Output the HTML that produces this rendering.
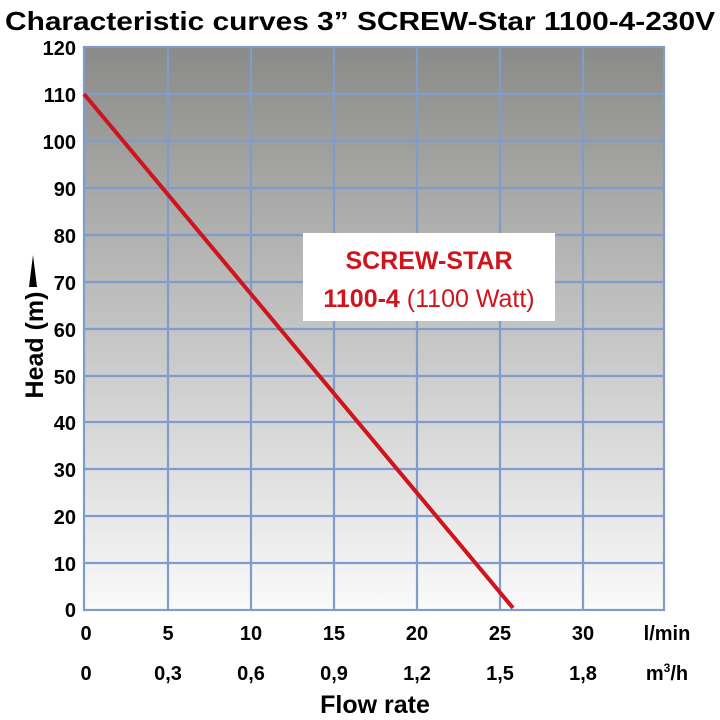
<!DOCTYPE html>
<html><head><style>
body{margin:0;background:#fff;width:720px;height:715px;overflow:hidden}
</style></head><body>
<svg width="720" height="715" xmlns="http://www.w3.org/2000/svg" font-family="Liberation Sans, sans-serif" font-weight="bold">
<defs><linearGradient id="g" x1="0" y1="0" x2="0" y2="1">
<stop offset="0" stop-color="#8a8a88"/><stop offset="0.5" stop-color="#c4c4c4"/><stop offset="1" stop-color="#fafafa"/></linearGradient></defs>
<text x="5" y="30" font-size="26" textLength="710" lengthAdjust="spacingAndGlyphs">Characteristic curves 3” SCREW-Star 1100-4-230V</text>
<rect x="84" y="47" width="580" height="563" fill="url(#g)"/>
<g stroke="#7f9ccc" stroke-width="2.2" fill="none">
<rect x="84" y="47" width="580" height="563"/>
<line x1="84" y1="94" x2="664" y2="94"/><line x1="84" y1="141" x2="664" y2="141"/>
<line x1="84" y1="188" x2="664" y2="188"/><line x1="84" y1="235" x2="664" y2="235"/>
<line x1="84" y1="282" x2="664" y2="282"/><line x1="84" y1="329" x2="664" y2="329"/>
<line x1="84" y1="376" x2="664" y2="376"/><line x1="84" y1="422" x2="664" y2="422"/>
<line x1="84" y1="469" x2="664" y2="469"/><line x1="84" y1="516" x2="664" y2="516"/>
<line x1="84" y1="563" x2="664" y2="563"/>
<line x1="168" y1="47" x2="168" y2="610"/><line x1="251" y1="47" x2="251" y2="610"/>
<line x1="334" y1="47" x2="334" y2="610"/><line x1="417" y1="47" x2="417" y2="610"/>
<line x1="500" y1="47" x2="500" y2="610"/><line x1="583" y1="47" x2="583" y2="610"/>
</g>
<rect x="303" y="233" width="252" height="88" fill="#fff"/>
<text x="429" y="269" text-anchor="middle" font-size="25" fill="#d0141e">SCREW-STAR</text>
<text x="429" y="307" text-anchor="middle" font-size="25" fill="#d0141e">1100-4 <tspan font-weight="normal">(1100 Watt)</tspan></text>
<line x1="84" y1="94" x2="513" y2="608" stroke="#d0141e" stroke-width="4"/>
<g font-size="20" text-anchor="end">
<text x="76" y="55">120</text><text x="76" y="102">110</text><text x="76" y="149">100</text>
<text x="76" y="196">90</text><text x="76" y="243">80</text><text x="76" y="290">70</text>
<text x="76" y="337">60</text><text x="76" y="384">50</text><text x="76" y="430">40</text>
<text x="76" y="477">30</text><text x="76" y="524">20</text><text x="76" y="571">10</text>
<text x="76" y="617">0</text></g>
<g font-size="20" text-anchor="middle">
<text x="86" y="640">0</text><text x="168" y="640">5</text><text x="251" y="640">10</text>
<text x="334" y="640">15</text><text x="417" y="640">20</text><text x="500" y="640">25</text>
<text x="583" y="640">30</text><text x="667" y="640">l/min</text>
<text x="86" y="680">0</text><text x="168" y="680">0,3</text><text x="251" y="680">0,6</text>
<text x="334" y="680">0,9</text><text x="417" y="680">1,2</text><text x="500" y="680">1,5</text>
<text x="583" y="680">1,8</text><text x="667" y="680">m<tspan font-size="12" dy="-8">3</tspan><tspan dy="8">/h</tspan></text>
</g>
<text x="375" y="713" text-anchor="middle" font-size="25">Flow rate</text>
<text transform="translate(43,345) rotate(-90)" text-anchor="middle" font-size="25">Head (m)</text>
<polygon points="29,287 37,287 33,255" fill="#000"/>
</svg>
</body></html>
